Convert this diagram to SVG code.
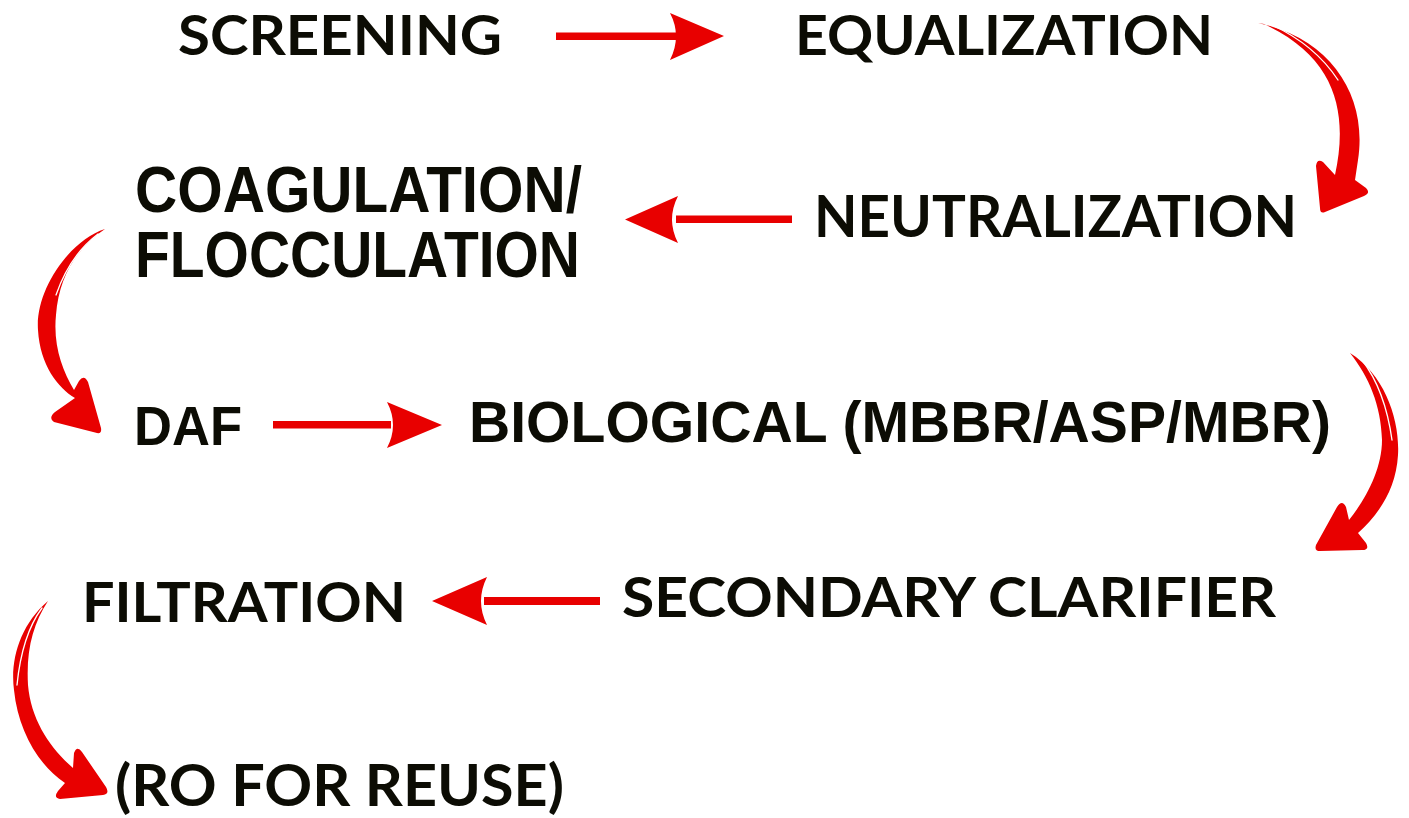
<svg xmlns="http://www.w3.org/2000/svg" width="1409" height="818" viewBox="0 0 1409 818">
<style>
.a{font-family:"Liberation Sans",Arial,sans-serif;font-weight:700;fill:#0c0c04}
.g{font-family:Lato,"Liberation Sans",sans-serif;font-weight:700;fill:#0c0c04}
.r{fill:#e80000}
.hl{fill:none;stroke:#fff;stroke-width:1.3;stroke-linecap:round}
</style>
<rect width="1409" height="818" fill="#fff"/>
<g id="screening"><text class="g" x="178" y="55" font-size="56" textLength="324" lengthAdjust="spacingAndGlyphs">SCREENING</text></g>
<g id="equalization"><text class="g" x="795" y="55" font-size="56" textLength="418" lengthAdjust="spacingAndGlyphs">EQUALIZATION</text></g>
<g id="coagulation"><text class="a" x="135" y="212" font-size="64" textLength="447" lengthAdjust="spacingAndGlyphs">COAGULATION/</text><text class="a" x="135" y="277" font-size="64" textLength="445" lengthAdjust="spacingAndGlyphs">FLOCCULATION</text></g>
<g id="neutralization"><text class="g" x="814" y="237" font-size="57" textLength="483" lengthAdjust="spacingAndGlyphs">NEUTRALIZATION</text></g>
<g id="daf"><text class="a" x="134" y="445" font-size="56" textLength="108" lengthAdjust="spacingAndGlyphs">DAF</text></g>
<g id="biological"><text class="a" x="469" y="442" font-size="58" textLength="862" lengthAdjust="spacingAndGlyphs">BIOLOGICAL (MBBR/ASP/MBR)</text></g>
<g id="secondary"><text class="g" x="622" y="617" font-size="56" textLength="654" lengthAdjust="spacingAndGlyphs">SECONDARY CLARIFIER</text></g>
<g id="filtration"><text class="g" x="82" y="622" font-size="56" textLength="324" lengthAdjust="spacingAndGlyphs">FILTRATION</text></g>
<g id="ro"><text class="g" x="115" y="806" font-size="58" textLength="449" lengthAdjust="spacingAndGlyphs">(RO FOR REUSE)</text></g>
<g id="connectors">
<g class="r">
<rect x="556" y="32.5" width="122" height="7.5"/>
<path d="M670,13 Q682,36 670,60 L724,36 Z"/>
<rect x="676" y="215.5" width="116" height="7.5"/>
<path d="M678,196 Q666,219.5 678,243 L625,219.5 Z"/>
<rect x="273" y="421" width="118" height="7.5"/>
<path d="M387,402 Q399,425 387,448 L442,425 Z"/>
<rect x="484" y="597" width="116" height="8"/>
<path d="M487,577 Q475,601 487,625 L432,601 Z"/>
<path d="M1258,23 C1330,38 1368,95 1358,160 L1355,180 L1366,188 Q1371,193 1364,196 L1325,212 Q1320,214 1320,208 L1316,166 Q1317,158 1323,162 L1335,175 C1348,115 1338,58 1264,24 Z"/>
<path d="M105,229 C70,240 35,290 38,330 C40,365 58,388 75,398 L55,412 Q48,418 54,422 L97,433 Q102,434 101,428 L88,382 Q84,374 79,381 L74,390 C62,370 53,345 56,315 C59,275 78,247 105,229 Z"/>
<path d="M1350,353 C1385,375 1400,420 1398,455 C1396,490 1378,515 1358,533 L1366,543 Q1370,550 1362,550 L1320,551 Q1314,551 1316,545 L1337,507 Q1342,499 1346,507 L1349,520 C1365,500 1382,470 1382,440 C1381,405 1369,377 1350,353 Z"/>
<path d="M48,601 C20,625 10,660 14,690 C18,730 38,765 65,783 L58,791 Q53,798 60,799 L103,795 Q110,794 106,787 L82,752 Q77,745 74,753 L73,768 C50,748 31,720 28,685 C26,650 33,624 48,601 Z"/>
</g>
<path class="hl" d="M1272,25 Q1315,45 1338,80"/>
<path class="hl" d="M98,234 Q70,255 56,295"/>
<path class="hl" d="M1362,360 Q1385,390 1392,440"/>
<path class="hl" d="M42,608 Q22,635 17,685"/>
</g>
</svg>
